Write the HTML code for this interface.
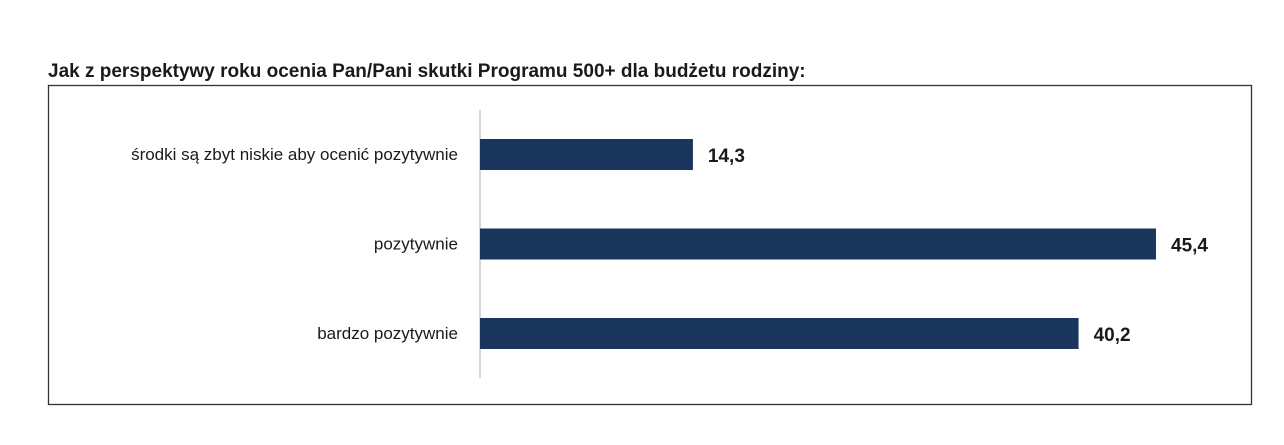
<!DOCTYPE html>
<html><head><meta charset="utf-8"><style>
body{margin:0;background:#fff;width:1284px;height:440px;overflow:hidden;font-family:"Liberation Sans",sans-serif;}
</style></head><body>
<svg width="1284" height="440">
<text x="48" y="77" font-size="19" font-weight="bold" fill="#1a1a1a">Jak z perspektywy roku ocenia Pan/Pani skutki Programu 500+ dla budżetu rodziny:</text>
<rect x="48.5" y="85.5" width="1203" height="319" fill="none" stroke="#333" stroke-width="1.3"/>
<line x1="480" y1="110" x2="480" y2="378" stroke="#bfbfbf" stroke-width="1.3"/>
<g id="bars"></g>
</svg>
<script>
const categories=["środki są zbyt niskie aby ocenić pozytywnie","pozytywnie","bardzo pozytywnie"];
const values=[14.3,45.4,40.2];
const valueLabels=["14,3","45,4","40,2"];
const x0=480, scale=676/45.4;
function xPos(v){return x0+v*scale;}
function yPos(i){return 139+i*89.5;}
const g=document.getElementById('bars');
const ns="http://www.w3.org/2000/svg";
categories.forEach((c,i)=>{
  const y=yPos(i);
  const r=document.createElementNS(ns,'rect');
  r.setAttribute('x',x0);r.setAttribute('y',y);r.setAttribute('width',xPos(values[i])-x0);r.setAttribute('height',31);r.setAttribute('fill','#1b365d');
  
  
  g.appendChild(r);
  const t=document.createElementNS(ns,'text');
  t.setAttribute('x',458);t.setAttribute('y',y+21);t.setAttribute('text-anchor','end');t.setAttribute('font-size','17');t.setAttribute('fill','#1a1a1a');
  t.textContent=c;
  
  
  g.appendChild(t);
  const v=document.createElementNS(ns,'text');
  v.setAttribute('x',xPos(values[i])+15);v.setAttribute('y',y+23);v.setAttribute('font-size','19');v.setAttribute('font-weight','bold');v.setAttribute('fill','#1a1a1a');
  v.textContent=valueLabels[i];
  
  
  g.appendChild(v);
});
</script>
</body></html>
